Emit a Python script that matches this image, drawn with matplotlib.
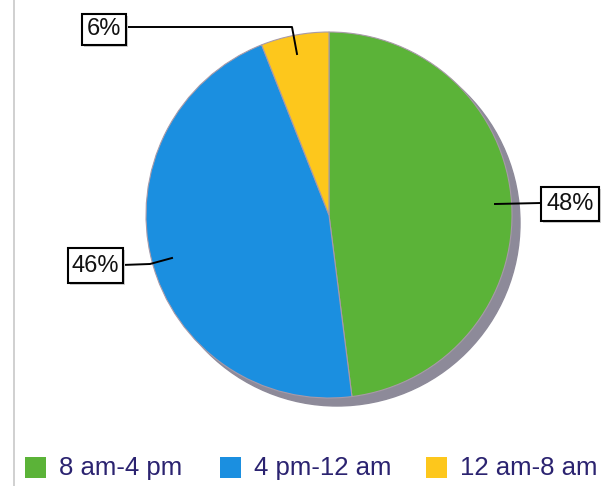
import matplotlib
matplotlib.use("Agg")
import matplotlib.pyplot as plt
from matplotlib.patches import Circle, Rectangle

categories = ["8 am-4 pm", "4 pm-12 am", "12 am-8 am"]
values = [48, 46, 6]
labels = ["48%", "46%", "6%"]
colors = ["#5bb338", "#1b8fe0", "#fdc71c"]

W, H = 604, 486
fig = plt.figure(figsize=(W / 100, H / 100), dpi=100)
ax = fig.add_axes([0, 0, 1, 1])

cx, cy, r = 329, H - 215, 183

# left border line
ax.plot([14, 14], [0, H], color="#c8c8c8", lw=1.2)

# shadow
ax.add_patch(Circle((cx + 8, cy - 8), r, color="#8d8a99", zorder=1))

wedges, _ = ax.pie(values, colors=colors, startangle=90, counterclock=False,
                   center=(cx, cy), radius=r, frame=True,
                   wedgeprops=dict(edgecolor="#a89aa8", linewidth=0.8))
for w in wedges:
    w.set_zorder(2)
ax.set_xlim(0, W)
ax.set_ylim(0, H)
ax.set_aspect("equal")
ax.axis("off")

font = "Liberation Sans"

def box_label(text, xc, yc, w, h):
    yc = H - yc
    ax.add_patch(Rectangle((xc - w / 2 + 2, yc - h / 2 - 2), w, h,
                           facecolor="#d0d0d0", edgecolor="none", zorder=4))
    ax.add_patch(Rectangle((xc - w / 2, yc - h / 2), w, h,
                           facecolor="white", edgecolor="black", lw=1.5, zorder=5))
    ax.text(xc, yc + 0.5, text, ha="center", va="center", fontsize=17,
            family=font, color="#111111", zorder=6)

# leader lines
ax.plot([126, 292, 297], [H - 27, H - 27, H - 54], color="black", lw=1.4, zorder=3)
ax.plot([495, 541], [H - 204, H - 203], color="black", lw=1.4, zorder=3)
ax.plot([122, 150, 172], [H - 265, H - 264, H - 258], color="black", lw=1.4, zorder=3)

box_label(labels[2], 104, 30, 44, 31)
box_label(labels[0], 570, 204, 58, 34)
box_label(labels[1], 95, 266, 55, 35)

# legend
leg_x = [[25, 59], [220, 254], [426, 460]]
for (sx, tx), cat, col in zip(leg_x, categories, colors):
    ax.add_patch(Rectangle((sx, H - 478), 21, 21, facecolor=col, edgecolor="none"))
    ax.text(tx, H - 468, cat, ha="left", va="center", fontsize=18.5,
            family=font, color="#2b2370")

fig.savefig("out.png", dpi=100)
